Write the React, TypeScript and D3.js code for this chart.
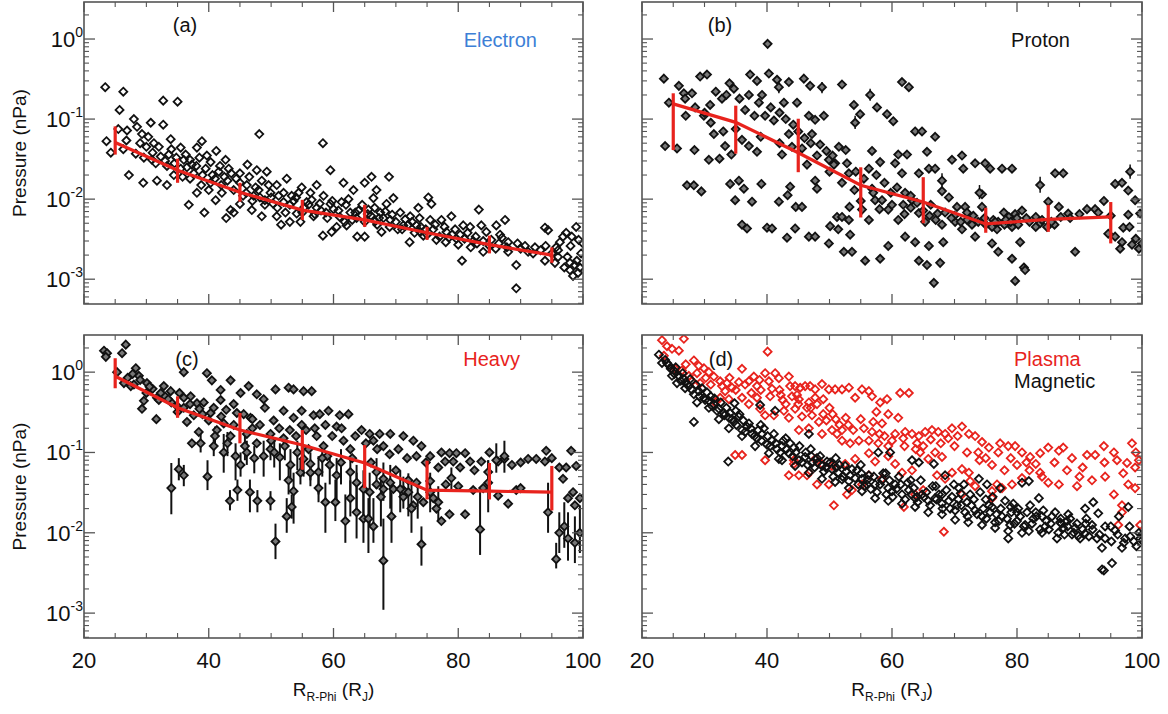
import React from "react";
import * as d3 from "d3";

// ---------- DATA ----------
const meanR = [25, 35, 45, 55, 65, 75, 85, 95];

const electronMean = [0.051, 0.023, 0.0122, 0.0073, 0.0055, 0.0038, 0.0027, 0.002];
const electronLo = [0.036, 0.016, 0.0093, 0.0055, 0.0045, 0.0031, 0.0021, 0.0016];
const electronHi = [0.081, 0.032, 0.016, 0.0098, 0.0085, 0.0045, 0.0035, 0.0025];

const protonMean = [0.155, 0.091, 0.038, 0.0149, 0.0092, 0.0049, 0.0056, 0.006];
const protonLo = [0.041, 0.037, 0.0217, 0.0059, 0.005, 0.0038, 0.0039, 0.0028];
const protonHi = [0.21, 0.147, 0.101, 0.025, 0.0188, 0.0078, 0.0085, 0.0092];

const heavyMean = [0.89, 0.36, 0.19, 0.124, 0.074, 0.034, 0.033, 0.032];
const heavyLo = [0.63, 0.27, 0.13, 0.061, 0.036, 0.026, 0.026, 0.019];
const heavyHi = [1.49, 0.5, 0.31, 0.19, 0.124, 0.079, 0.074, 0.068];

const electronPts: [number, number][] = [
  [23.4, 0.25], [26.3, 0.22], [25.7, 0.13], [23.6, 0.053], [24.3, 0.038], [25.5, 0.075], [26.9, 0.072],
  [26.8, 0.054], [26.3, 0.042], [27.2, 0.02], [28, 0.1], [28.5, 0.08], [29.3, 0.065], [30.7, 0.09],
  [32.7, 0.17], [35, 0.165], [32.7, 0.085], [31.2, 0.05], [28.3, 0.037], [29.6, 0.033], [30.9, 0.031],
  [32.3, 0.034], [29.5, 0.016], [31.7, 0.017], [33.9, 0.056], [34, 0.042], [33.3, 0.026], [33.3, 0.015],
  [35.5, 0.044], [36, 0.031], [34.4, 0.02], [38.9, 0.053], [38.1, 0.044], [41.2, 0.04], [39.7, 0.035],
  [42.7, 0.031], [37, 0.031], [36.5, 0.025], [37.6, 0.021], [36.8, 0.0085], [39.3, 0.0068], [38.8, 0.015],
  [40.3, 0.016], [41.6, 0.022], [41.1, 0.0097], [42.1, 0.012], [43.5, 0.0073], [42.8, 0.0058], [40.3, 0.029],
  [43.6, 0.021], [38.1, 0.012], [46.2, 0.027], [48.1, 0.065], [47.7, 0.023], [49.3, 0.022], [45, 0.021],
  [46.1, 0.015], [47.2, 0.011], [48.5, 0.017], [49.9, 0.012], [50.9, 0.015], [46.9, 0.0073], [48.5, 0.0061],
  [50.9, 0.0061], [51.6, 0.0048], [45, 0.0087], [49, 0.0097], [52, 0.0092], [44, 0.0068], [52.5, 0.018],
  [54.9, 0.014], [57.3, 0.015], [58.3, 0.05], [59.5, 0.023], [53.3, 0.011], [56.3, 0.012], [58.4, 0.011],
  [54.1, 0.0066], [56.8, 0.0061], [53, 0.0052], [58.3, 0.0035], [59.7, 0.0039], [60.5, 0.0045], [57.3, 0.0078],
  [55.7, 0.0092], [59.5, 0.0087], [54.7, 0.0052], [61.6, 0.016], [63.2, 0.013], [65, 0.016], [66.1, 0.019],
  [66.9, 0.013], [61.3, 0.0092], [62.7, 0.0068], [63.7, 0.0058], [63.8, 0.0034], [65, 0.0034], [65.6, 0.0074],
  [67.5, 0.0068], [66.7, 0.0053], [67.7, 0.0039], [62.1, 0.0047], [66.4, 0.0103], [68.9, 0.019], [69.6, 0.0103],
  [68.5, 0.0087], [70.7, 0.0068], [72.3, 0.0061], [73.6, 0.0078], [75.2, 0.0105], [75.7, 0.0087], [72.2, 0.0029],
  [73.9, 0.0039], [71.2, 0.0047], [75.5, 0.0055], [69.1, 0.0055], [73.3, 0.0047], [74.4, 0.0035], [77.3, 0.0055],
  [78.9, 0.0061], [80.8, 0.0047], [81.9, 0.0045], [80.6, 0.0017], [83.3, 0.0074], [78.1, 0.0039], [79.7, 0.0032],
  [82.4, 0.003], [76.5, 0.0031], [83.7, 0.0047], [87.5, 0.0055], [86.1, 0.0047], [84.5, 0.0039], [88, 0.0029],
  [89.3, 0.0015], [89.3, 0.00077], [91.2, 0.0022], [86.7, 0.0036], [93.9, 0.0044], [94.4, 0.0041], [93.9, 0.0017],
  [95.5, 0.0016], [96.8, 0.0034], [97.3, 0.0038], [98.9, 0.0045], [99.7, 0.0021], [97, 0.0014], [97.9, 0.0016],
  [98.4, 0.0011], [99.2, 0.0012], [97.9, 0.0013], [96.3, 0.0029], [95.7, 0.0025],
  [30, 0.045], [31, 0.038], [33, 0.03], [34.5, 0.028], [35.5, 0.024], [37, 0.018], [38, 0.026], [39, 0.02],
  [40, 0.013], [41, 0.018], [42, 0.015], [43, 0.017], [44, 0.013], [45, 0.016], [46, 0.012], [47, 0.0095],
  [48, 0.013], [49, 0.0085], [50, 0.0105], [51, 0.0078], [52, 0.012], [53, 0.0085], [54, 0.0105], [55, 0.0068],
  [56, 0.0085], [57, 0.0065], [58, 0.0072], [59, 0.0058], [60, 0.0075], [61, 0.006], [62, 0.0085], [63, 0.0055],
  [64, 0.0072], [65, 0.0052], [66, 0.0062], [67, 0.0048], [68, 0.0058], [69, 0.0045], [70, 0.0052], [71, 0.0042],
  [72, 0.0048], [73, 0.0038], [74, 0.0045], [75, 0.0036], [76, 0.0042], [77, 0.0034], [78, 0.0029], [79, 0.0036],
  [80, 0.0027], [81, 0.0032], [82, 0.0025], [83, 0.0028], [84, 0.0022], [85, 0.0026], [86, 0.0024], [87, 0.0033],
  [88, 0.0022], [90, 0.0024], [92, 0.0021], [94, 0.0026], [96, 0.0019], [98, 0.0026], [99, 0.0017], [100, 0.0028],
  [29, 0.05], [30.3, 0.06], [31.5, 0.028], [32, 0.045], [33.6, 0.036], [34.8, 0.033], [35.8, 0.019], [36.3, 0.036],
  [37.3, 0.027], [38.5, 0.033], [39.5, 0.024], [40.6, 0.02], [41.8, 0.026], [42.5, 0.019], [43.2, 0.024],
  [44.4, 0.018], [45.5, 0.011], [46.5, 0.019], [47.5, 0.014], [48.2, 0.0105], [49.6, 0.015], [50.3, 0.0088],
  [51.2, 0.011], [52.3, 0.0068], [53.6, 0.0095], [54.4, 0.012], [55.3, 0.0079], [56.5, 0.0098], [57.8, 0.0088],
  [58.8, 0.0068], [59.8, 0.0095], [60.8, 0.0072], [61.8, 0.0052], [62.4, 0.01], [63.5, 0.0068], [64.6, 0.0085],
  [65.5, 0.0065], [66.6, 0.0078], [67.3, 0.0058], [68.3, 0.007], [69.4, 0.0064], [70.3, 0.0042], [71.5, 0.0056],
  [72.6, 0.0052], [73.8, 0.0058], [74.8, 0.0042], [76.3, 0.0048], [77.8, 0.0045], [78.5, 0.0033], [79.5, 0.0042],
  [80.3, 0.0036], [81.5, 0.0038], [82.8, 0.0034], [84, 0.003], [85.3, 0.0031], [86.5, 0.0028], [87.8, 0.0025],
  [89.5, 0.0028], [90.7, 0.0026], [92.3, 0.0025], [93.2, 0.0023], [95, 0.0021], [96, 0.0023], [97.5, 0.0019],
  [98.7, 0.0015], [99.5, 0.0014], [99.3, 0.0031], [98.2, 0.0034],
];

const protonPts: [number, number][] = [
  [23.5, 0.32], [24.3, 0.16], [23.7, 0.046], [25.6, 0.043], [25.9, 0.26], [26.7, 0.21], [28, 0.21], [26.9, 0.18],
  [28.5, 0.14], [29.9, 0.11], [27.2, 0.0149], [28.3, 0.0149], [29.5, 0.0125], [28.4, 0.041], [30.7, 0.031],
  [32.4, 0.032], [29.3, 0.34], [30.4, 0.36], [30.9, 0.15], [31.5, 0.065], [32.8, 0.18], [34, 0.28], [34.7, 0.24],
  [33.3, 0.046], [34.3, 0.036], [34.1, 0.0155], [34.9, 0.0097], [36, 0.0048], [36.8, 0.0043], [35.5, 0.017],
  [36.3, 0.0135], [37.1, 0.2], [37.3, 0.36], [38.4, 0.3], [40.1, 0.87], [40.3, 0.37], [41.6, 0.31], [38.7, 0.16],
  [39.7, 0.11], [41.1, 0.096], [37.1, 0.046], [38.4, 0.039], [39.1, 0.0155], [37.6, 0.0093], [40, 0.0044],
  [40.8, 0.0043], [41.9, 0.0093], [43.5, 0.29], [42.7, 0.16], [44.8, 0.16], [43.5, 0.065], [42.4, 0.036],
  [43.7, 0.0143], [43.3, 0.0112], [44.6, 0.008], [44.5, 0.0043], [43.2, 0.0033], [45.9, 0.32], [46.9, 0.26],
  [46.7, 0.11], [47.7, 0.098], [49.1, 0.11], [45.6, 0.043], [46.4, 0.027], [47.7, 0.017], [48, 0.0135],
  [45.6, 0.008], [46.7, 0.0034], [47.7, 0.0034], [49.9, 0.0028], [49.9, 0.031], [50.9, 0.028], [52, 0.27],
  [50.7, 0.027], [50.1, 0.0046], [51.2, 0.006], [52, 0.006], [51.4, 0.0042], [53.1, 0.0055], [53.9, 0.15],
  [54.9, 0.115], [52.6, 0.041], [53.1, 0.021], [53.2, 0.008], [53.3, 0.0036], [52.3, 0.0022], [53.6, 0.0022],
  [55.7, 0.0017], [57.6, 0.14], [59.2, 0.115], [60.2, 0.094], [56.8, 0.04], [58.1, 0.029], [56.3, 0.024],
  [56.8, 0.0135], [57.3, 0.0097], [58.4, 0.0097], [59.4, 0.0074], [55.2, 0.0074], [56.3, 0.0055], [58.1, 0.0018],
  [59.4, 0.0026], [61.6, 0.29], [62.7, 0.25], [63.7, 0.07], [64.8, 0.07], [66.9, 0.06], [61, 0.036], [62.4, 0.036],
  [60.5, 0.028], [61.6, 0.021], [64.3, 0.021], [65.6, 0.039], [65.9, 0.024], [66.9, 0.024], [62.1, 0.012],
  [63.2, 0.0097], [61, 0.0055], [64.3, 0.0067], [65.3, 0.0052], [62.1, 0.0034], [63.7, 0.0029], [64.3, 0.0017],
  [65.6, 0.0015], [65.9, 0.0026], [66.7, 0.0009], [67.7, 0.0016], [68.2, 0.0029], [69.6, 0.031], [71.2, 0.035],
  [71.4, 0.024], [68, 0.0126], [69.1, 0.0105], [70.4, 0.008], [71.7, 0.008], [70.1, 0.0052], [71.2, 0.0042],
  [72.8, 0.0048], [73.3, 0.028], [74.9, 0.028], [75.7, 0.024], [74.4, 0.0115], [74.4, 0.008], [76.2, 0.0055],
  [73.3, 0.0034], [76, 0.0028], [77, 0.0022], [76.8, 0.0042], [77.6, 0.024], [79.2, 0.024], [77.9, 0.0068],
  [78.7, 0.006], [79.7, 0.0065], [80.8, 0.0072], [79.2, 0.0045], [80.5, 0.0029], [79.2, 0.0018], [81.1, 0.0014],
  [81.3, 0.0013], [79.7, 0.00095], [85, 0.0093], [86.1, 0.021], [87.4, 0.021], [86.7, 0.008], [88.2, 0.0066],
  [83.7, 0.005], [84.8, 0.0045], [89.3, 0.0022], [91.2, 0.0075], [92.5, 0.0075], [93.9, 0.0095], [94.6, 0.0037],
  [95.7, 0.0155], [96.8, 0.016], [97.8, 0.0128], [98.9, 0.0097], [97.8, 0.0064], [97, 0.0044], [95.7, 0.0034],
  [96.8, 0.0029], [98.4, 0.0027], [99.5, 0.0024], [96.5, 0.0024], [99.7, 0.0066],
  [27, 0.11], [30, 0.12], [31, 0.09], [33, 0.07], [35, 0.075], [36, 0.055], [39, 0.06], [42, 0.05], [44, 0.045],
  [47, 0.05], [48, 0.035], [50, 0.022], [52, 0.016], [54, 0.013], [55, 0.0095], [57, 0.012], [58, 0.0075],
  [60, 0.0085], [62, 0.0065], [63, 0.0078], [66, 0.0062], [67, 0.0055], [68, 0.0048], [70, 0.0062], [72, 0.0055],
  [73, 0.0062], [75, 0.0048], [76, 0.0045], [77, 0.0052], [78, 0.0048], [80, 0.0058], [82, 0.0052], [83, 0.006],
  [84, 0.0055], [86, 0.0048],
  [31.8, 0.22], [33.5, 0.2], [35.6, 0.18], [36.5, 0.13], [38, 0.11], [39.2, 0.2], [40.6, 0.14], [42, 0.12],
  [43, 0.1], [44.2, 0.085], [45, 0.07], [46, 0.058], [47.2, 0.065], [48.5, 0.048], [49.5, 0.04], [50.5, 0.035],
  [51.5, 0.045], [52.8, 0.028], [54.2, 0.022], [55.5, 0.018], [57.5, 0.02], [58.8, 0.016], [59.8, 0.012],
  [60.8, 0.014], [61.8, 0.0085], [63, 0.011], [64, 0.009], [65, 0.0072], [66.2, 0.0085], [67.3, 0.0066],
  [68.5, 0.0068], [69.5, 0.0058], [71, 0.0052], [72, 0.0068], [73.8, 0.0052], [74.8, 0.0058], [76.5, 0.0052],
  [78.2, 0.0055], [79, 0.0052], [80.2, 0.0048], [81.5, 0.0058], [83, 0.0045], [85.5, 0.0052], [87, 0.006],
  [88.5, 0.0058], [90, 0.0065], [93, 0.0068], [95, 0.0062], [98, 0.0045], [99, 0.0032], [100, 0.0028],
];

const protonErrPts: [number, number, number, number][] = [
  [54.1, 0.09, 0.075, 0.11], [56.5, 0.2, 0.17, 0.24], [41.9, 0.25, 0.21, 0.3], [48.8, 0.25, 0.21, 0.29],
  [83.7, 0.015, 0.012, 0.019], [98.1, 0.022, 0.018, 0.027], [68, 0.017, 0.014, 0.021], [74, 0.012, 0.01, 0.015],
];

const heavyPts: [number, number][] = [
  [23.2, 1.85], [23.7, 1.72], [23.5, 1.55], [26.7, 2.2], [26.1, 1.72], [25.3, 1.0], [28.3, 1.12], [28.8, 0.9],
  [26.4, 0.73], [27.5, 0.67], [30.1, 0.73], [30.7, 0.6], [31.7, 0.48], [29.6, 0.44], [29.3, 0.35], [31.6, 0.26],
  [32.8, 0.67], [33.9, 0.58], [36, 1.0], [34.9, 0.38], [36, 0.48], [37.1, 0.5], [38.1, 0.41], [37.6, 0.29],
  [38.4, 0.18], [37.3, 0.13], [36.5, 0.24], [39.7, 0.97], [40.5, 0.79], [41.9, 0.6], [43.5, 0.79], [41.9, 0.45],
  [40.3, 0.31], [41.3, 0.19], [42.4, 0.23], [43.5, 0.16], [44.5, 0.31], [45.1, 0.55], [46.4, 0.67], [47.7, 0.53],
  [48.8, 0.46], [49, 0.36], [46.7, 0.27], [46.1, 0.17], [47.7, 0.13], [49.9, 0.17], [50.7, 0.61], [52.8, 0.64],
  [53.6, 0.61], [52, 0.33], [54.9, 0.33], [55.2, 0.58], [56.5, 0.58], [53.6, 0.27], [54.9, 0.22], [56.8, 0.29],
  [57.8, 0.3], [59.2, 0.33], [61, 0.29], [62.4, 0.3], [58.7, 0.22], [60.5, 0.21], [57.3, 0.16], [58.4, 0.12],
  [61.6, 0.14], [62.7, 0.11], [65.8, 0.17], [67.4, 0.17], [69.1, 0.17], [71.2, 0.16], [72.8, 0.14], [74.1, 0.12],
  [75.5, 0.09], [73.3, 0.09], [70.4, 0.11], [66.4, 0.14], [68, 0.12], [77.3, 0.1], [78.6, 0.098], [79.7, 0.098],
  [81.1, 0.098], [77.9, 0.077], [79.2, 0.077], [81.9, 0.077], [83.7, 0.077], [85, 0.1], [86.4, 0.077],
  [87.4, 0.083], [91.2, 0.083], [92.5, 0.083], [94.1, 0.105], [93.9, 0.077], [98.1, 0.105], [96.2, 0.065],
  [97.3, 0.065], [98.9, 0.068], [96.8, 0.047], [98.4, 0.032], [99.5, 0.027], [97.6, 0.027], [98.7, 0.022],
  [89.3, 0.034], [88, 0.023], [86.4, 0.029], [82.4, 0.034], [81.1, 0.017], [77.3, 0.014], [78.6, 0.017],
  [76, 0.027], [76.5, 0.02], [74.4, 0.024], [72.8, 0.022], [71.2, 0.028], [69.6, 0.035], [68, 0.035],
  [66.9, 0.04], [73.3, 0.042], [75.5, 0.044],
  [27, 0.85], [28, 0.7], [30, 0.55], [31, 0.62], [32, 0.45], [33, 0.5], [34, 0.42], [35, 0.32], [36, 0.36],
  [39, 0.3], [40, 0.25], [42, 0.28], [44, 0.22], [47, 0.2], [50, 0.14], [52, 0.15], [56, 0.11], [59, 0.09],
  [63, 0.085], [66, 0.075], [70, 0.06], [72, 0.045], [78, 0.04], [80, 0.038], [84, 0.036], [90, 0.036],
  [27.8, 0.95], [29, 0.8], [30.5, 0.66], [32.3, 0.55], [33.5, 0.46], [35.3, 0.55], [37, 0.4], [38.5, 0.35],
  [39.2, 0.42], [40.8, 0.36], [42.8, 0.34], [44, 0.4], [45.6, 0.3], [47, 0.26], [48.2, 0.22], [50.4, 0.25],
  [51.3, 0.2], [53, 0.19], [54, 0.16], [55.6, 0.19], [57, 0.2], [59.8, 0.16], [61.3, 0.2], [63.5, 0.16],
  [64.5, 0.19], [65.2, 0.13], [67, 0.11], [69, 0.095], [71.8, 0.085], [74.8, 0.075], [76.8, 0.065],
  [80.3, 0.065], [82.6, 0.06], [88.6, 0.07], [90, 0.075], [95, 0.085],
];

const heavyErrPts: [number, number, number, number][] = [
  [34, 0.036, 0.017, 0.074], [35.2, 0.062, 0.045, 0.085], [36, 0.052, 0.038, 0.07], [39.8, 0.05, 0.034, 0.08],
  [43.4, 0.025, 0.019, 0.034], [44.6, 0.034, 0.025, 0.046], [46.6, 0.032, 0.018, 0.046], [47.8, 0.025, 0.018, 0.034],
  [49.9, 0.025, 0.019, 0.033], [50.7, 0.0078, 0.0047, 0.013], [52.5, 0.016, 0.01, 0.027], [53.3, 0.021, 0.015, 0.03],
  [53.6, 0.033, 0.013, 0.056], [52.8, 0.045, 0.03, 0.07], [54.7, 0.056, 0.04, 0.08], [56.3, 0.056, 0.038, 0.08],
  [57.6, 0.036, 0.024, 0.056], [58.7, 0.024, 0.01, 0.042], [60.3, 0.024, 0.014, 0.046], [61.9, 0.014, 0.0075, 0.03],
  [62.7, 0.027, 0.016, 0.045], [63.7, 0.018, 0.0085, 0.056], [64.8, 0.015, 0.0075, 0.04], [65.6, 0.015, 0.0056, 0.027],
  [66.4, 0.012, 0.0075, 0.027], [68, 0.0045, 0.0011, 0.015], [69.3, 0.016, 0.0075, 0.032], [71.2, 0.034, 0.02, 0.05],
  [72.5, 0.02, 0.01, 0.042], [74.1, 0.0072, 0.0039, 0.012], [75.5, 0.032, 0.018, 0.056], [78.9, 0.048, 0.034, 0.065],
  [83.5, 0.011, 0.0053, 0.033], [84.8, 0.042, 0.018, 0.08], [86.1, 0.08, 0.056, 0.13], [87.4, 0.09, 0.056, 0.14],
  [94.4, 0.018, 0.01, 0.042], [95.7, 0.0047, 0.0036, 0.0075], [96.2, 0.01, 0.0056, 0.018], [97, 0.012, 0.0065, 0.024],
  [97.6, 0.0085, 0.0045, 0.018], [98.7, 0.0075, 0.0042, 0.016], [99.5, 0.01, 0.0056, 0.022], [84.8, 0.057, 0.04, 0.08],
  [38.7, 0.13, 0.1, 0.17], [40.8, 0.12, 0.09, 0.16], [42.4, 0.1, 0.056, 0.17], [44.3, 0.09, 0.045, 0.13],
  [45.1, 0.07, 0.05, 0.1], [46.1, 0.1, 0.07, 0.14], [48.8, 0.09, 0.05, 0.14], [49.9, 0.11, 0.08, 0.15],
  [51.4, 0.087, 0.045, 0.13], [53.1, 0.07, 0.045, 0.11], [55.2, 0.083, 0.05, 0.12], [56.3, 0.072, 0.045, 0.1],
  [57.6, 0.057, 0.03, 0.09], [59.4, 0.07, 0.04, 0.1], [60.5, 0.052, 0.025, 0.085], [62.7, 0.057, 0.03, 0.09],
  [63.7, 0.042, 0.02, 0.07], [64.8, 0.035, 0.015, 0.06], [65.8, 0.032, 0.012, 0.056], [66.9, 0.057, 0.035, 0.085],
  [68, 0.047, 0.025, 0.075], [69.1, 0.042, 0.02, 0.07], [70.7, 0.035, 0.018, 0.06], [72, 0.032, 0.016, 0.055],
  [41, 0.16, 0.12, 0.21], [43, 0.13, 0.09, 0.18], [45.8, 0.12, 0.08, 0.17], [47.3, 0.085, 0.055, 0.12],
  [50.5, 0.1, 0.065, 0.14], [52.2, 0.12, 0.08, 0.16], [54.2, 0.1, 0.06, 0.14], [58.2, 0.085, 0.05, 0.12],
  [61.2, 0.075, 0.04, 0.11], [67.6, 0.028, 0.012, 0.05], [73.5, 0.028, 0.015, 0.045], [76.8, 0.024, 0.014, 0.038],
];

const magneticPts: [number, number][] = [
  [22.7, 1.65], [23.7, 1.42], [24.3, 1.22], [25.1, 1.05], [25.9, 0.9], [26.7, 0.82], [25.6, 0.73], [27.5, 0.67],
  [28.3, 0.53], [29.1, 0.58], [29.9, 0.48], [30.7, 0.44], [31.5, 0.4], [32.3, 0.35], [33.1, 0.31], [30.7, 0.36],
  [33.9, 0.27], [34.7, 0.24], [35.5, 0.28], [36, 0.19], [36.8, 0.21], [37.6, 0.17], [38.4, 0.15], [39.2, 0.17],
  [40, 0.125], [40.8, 0.14], [41.6, 0.11], [42.4, 0.12], [43.5, 0.098], [44.3, 0.115], [45.1, 0.08],
  [46.1, 0.088], [46.7, 0.17], [47.2, 0.074], [48, 0.085], [48.8, 0.068], [49.6, 0.077], [50.4, 0.062],
  [51.4, 0.056], [52.5, 0.068], [53.3, 0.052], [54.4, 0.06], [55.2, 0.047], [56.3, 0.052], [57.3, 0.04],
  [57.8, 0.1], [58.4, 0.045], [59.7, 0.1], [59.4, 0.036], [60.5, 0.04], [61.6, 0.03], [62.7, 0.034], [63.2, 0.08],
  [64.3, 0.075], [63.7, 0.027], [64.8, 0.03], [65.8, 0.025], [66.9, 0.027], [66.7, 0.072], [68, 0.023],
  [68.5, 0.052], [69.9, 0.04], [69.3, 0.02], [70.7, 0.036], [70.4, 0.022], [71.7, 0.018], [72.5, 0.03],
  [73.3, 0.019], [73.9, 0.047], [74.4, 0.016], [75.2, 0.04], [75.7, 0.018], [76.5, 0.0135], [77.3, 0.036],
  [77.6, 0.016], [78.6, 0.0105], [79.4, 0.023], [80, 0.014], [80.8, 0.042], [81.9, 0.044], [81.3, 0.0125],
  [82.6, 0.015], [83.5, 0.027], [84, 0.01], [84.5, 0.012], [85.6, 0.016], [86.4, 0.0085], [87.4, 0.0115],
  [88.2, 0.017], [88.8, 0.0095], [89.8, 0.0092], [90.9, 0.02], [92, 0.0125], [92.2, 0.024], [92.8, 0.0085],
  [93, 0.0175], [93.6, 0.0035], [93.9, 0.0034], [94.1, 0.0085], [95.2, 0.0042], [95.7, 0.0107], [96.3, 0.016],
  [97.3, 0.0085], [97.8, 0.021], [98.7, 0.0078], [99.5, 0.01], [99.7, 0.0085], [93.6, 0.0065], [96.8, 0.0065],
  [90.9, 0.0098], [89.3, 0.0115], [86.9, 0.0135], [81.9, 0.0105], [78.9, 0.0125],
  [28.3, 0.24], [33.8, 0.077], [34.8, 0.41], [38.9, 0.39], [41.3, 0.33], [41.9, 0.083],
  [23.2, 1.3], [24.8, 0.9], [26.9, 0.63], [28.8, 0.42], [32.3, 0.26], [33.9, 0.2], [36, 0.16], [38.1, 0.12],
  [40.3, 0.098], [42.4, 0.08], [44.5, 0.068], [46.7, 0.056], [48.8, 0.047], [50.9, 0.043], [53.1, 0.036],
  [55.2, 0.033], [57.3, 0.027], [59.4, 0.025], [61.6, 0.023], [63.7, 0.021], [65.8, 0.018], [68, 0.017],
  [70.1, 0.0145], [72.2, 0.0135], [74.4, 0.0125], [76.5, 0.0115], [78.6, 0.0085], [80.8, 0.01],
  [27, 0.75], [31, 0.5], [35, 0.33], [39, 0.22], [43, 0.15], [47, 0.11], [51, 0.085], [55, 0.07], [59, 0.055],
  [63, 0.045], [67, 0.038], [71, 0.031], [75, 0.026], [79, 0.021], [83, 0.018], [87, 0.015], [91, 0.013],
  [95, 0.012], [52, 0.046], [56, 0.04], [60, 0.033], [64, 0.028], [68, 0.03], [72, 0.024], [76, 0.021],
  [80, 0.018], [84, 0.016], [88, 0.014], [98, 0.012], [100, 0.0095],
  [24, 1.3], [24.6, 1.1], [25.2, 0.95], [25.4, 1.15], [26.2, 0.78], [26.5, 0.97], [27.2, 0.7], [27.7, 0.82],
  [28, 0.6], [28.6, 0.7], [29.2, 0.5], [29.6, 0.63], [30.1, 0.45], [30.4, 0.56], [31.2, 0.38], [31.6, 0.47],
  [32, 0.33], [32.6, 0.42], [33.2, 0.29], [33.5, 0.36], [34.1, 0.31], [34.4, 0.26], [35.1, 0.22], [35.6, 0.3],
  [36.2, 0.25], [36.5, 0.18], [37.1, 0.23], [37.4, 0.2], [38, 0.16], [38.6, 0.19], [39.1, 0.14], [39.5, 0.2],
  [40.1, 0.16], [40.5, 0.12], [41.1, 0.17], [41.4, 0.13], [42.1, 0.1], [42.6, 0.14], [43.1, 0.11], [43.7, 0.13],
  [44.1, 0.09], [44.6, 0.1], [45.2, 0.12], [45.6, 0.075], [46.2, 0.1], [46.5, 0.07], [47.1, 0.09], [47.6, 0.065],
  [48.1, 0.075], [48.5, 0.09], [49.1, 0.058], [49.4, 0.065], [50.1, 0.075], [50.6, 0.05], [51.1, 0.065],
  [51.6, 0.07], [52.1, 0.05], [52.7, 0.058], [53.1, 0.044], [53.6, 0.062], [54.1, 0.048], [54.6, 0.04],
  [55.1, 0.055], [55.6, 0.038], [56.1, 0.046], [56.6, 0.035], [57.1, 0.05], [57.6, 0.032], [58.1, 0.04],
  [58.6, 0.055], [59.1, 0.03], [59.6, 0.045], [60.1, 0.028], [60.7, 0.035], [61.1, 0.05], [61.4, 0.04],
  [62.1, 0.026], [62.5, 0.042], [63.1, 0.03], [63.5, 0.036], [64.1, 0.024], [64.6, 0.045], [65.1, 0.028],
  [65.5, 0.032], [66.1, 0.022], [66.5, 0.038], [67.1, 0.026], [67.5, 0.03], [68.1, 0.02], [68.7, 0.034],
  [69.1, 0.025], [69.6, 0.028], [70.1, 0.019], [70.6, 0.026], [71.1, 0.022], [71.5, 0.04], [72.1, 0.016],
  [72.7, 0.022], [73.1, 0.026], [73.6, 0.017], [74.1, 0.032], [74.6, 0.02], [75.1, 0.015], [75.5, 0.022],
  [76.1, 0.028], [76.7, 0.017], [77.1, 0.014], [77.4, 0.02], [78.1, 0.025], [78.4, 0.015], [79.1, 0.018],
  [79.6, 0.013], [80.2, 0.02], [80.5, 0.016], [81.1, 0.012], [81.6, 0.018], [82.1, 0.022], [82.4, 0.013],
  [83.1, 0.016], [83.7, 0.011], [84.2, 0.019], [84.7, 0.014], [85.1, 0.011], [85.4, 0.013], [86.1, 0.018],
  [86.6, 0.01], [87.1, 0.013], [87.6, 0.0095], [88.1, 0.012], [88.5, 0.015], [89.1, 0.01], [89.6, 0.013],
  [90.1, 0.0085], [90.5, 0.011], [91.1, 0.015], [91.5, 0.009], [92.1, 0.011], [93.2, 0.0095], [94.1, 0.012],
  [95.1, 0.0078], [96.1, 0.0095], [97.1, 0.0075], [98.1, 0.009], [99.1, 0.0068], [100, 0.008],
];

const plasmaPts: [number, number][] = [
  [23.2, 2.5], [24, 2.1], [24.8, 1.95], [25.9, 1.85], [26.7, 2.6], [23.5, 1.6], [25.3, 1.1], [26.4, 1.05],
  [28.3, 1.4], [29.1, 1.2], [29.9, 1.12], [30.7, 1.0], [28.8, 0.97], [28, 0.77], [29.3, 0.73], [31.5, 0.88],
  [32.5, 0.77], [32.8, 0.67], [33.6, 0.73], [34.4, 0.64], [33.3, 0.58], [32.5, 0.48], [31.7, 0.42], [33.9, 0.46],
  [36, 1.1], [37.1, 0.77], [37.9, 0.88], [38.4, 0.67], [40.1, 1.8], [39.7, 0.97], [40.3, 0.77], [41.3, 0.97],
  [41.9, 0.84], [43.5, 0.88], [43.7, 0.67], [36, 0.48], [37.1, 0.4], [38.4, 0.48], [38.9, 0.35], [39.7, 0.29],
  [41.1, 0.29], [42.7, 0.33], [43.5, 0.27], [44.5, 0.67], [45.3, 0.64], [46.1, 0.67], [46.9, 0.67], [47.7, 0.61],
  [48.8, 0.71], [49.9, 0.61], [50.9, 0.61], [52, 0.61], [53.1, 0.64], [45.1, 0.46], [46.7, 0.42], [47.7, 0.48],
  [49, 0.46], [44.5, 0.35], [45.6, 0.28], [47.2, 0.29], [48.3, 0.24], [45.1, 0.19], [46.7, 0.2], [48.8, 0.17],
  [50.4, 0.19], [51.2, 0.17], [52, 0.19], [54.1, 0.48], [55.2, 0.61], [56.3, 0.58], [56.8, 0.5], [58.1, 0.42],
  [59.2, 0.46], [61.3, 0.55], [62.7, 0.55], [59.4, 0.3], [61, 0.27], [58.4, 0.23], [56.8, 0.18], [54.7, 0.14],
  [53.3, 0.13], [52, 0.14], [56.3, 0.14], [57.8, 0.13], [59.4, 0.12], [60.5, 0.17], [62.1, 0.18], [63.2, 0.17],
  [64.3, 0.16], [65.3, 0.18], [66.4, 0.19], [67.4, 0.18], [68.5, 0.17], [69.6, 0.2], [71.2, 0.21], [72.3, 0.17],
  [73.3, 0.16], [74.4, 0.135], [75.5, 0.115], [77.3, 0.13], [78.6, 0.12], [79.7, 0.12], [80.8, 0.1], [82.1, 0.088],
  [83.7, 0.098], [85, 0.115], [86.7, 0.105], [87.4, 0.115], [91.2, 0.093], [92.5, 0.093], [93.9, 0.12], [96, 0.08],
  [98.4, 0.13], [97.6, 0.074], [98.9, 0.065], [99.5, 0.08], [97.8, 0.04], [98.9, 0.036], [97, 0.055], [94.1, 0.05],
  [95.5, 0.03], [96.8, 0.018], [96.2, 0.0125], [99.7, 0.0125], [96.8, 0.022], [89.6, 0.038], [86.7, 0.04],
  [85, 0.042], [83.7, 0.056], [80.8, 0.048], [79.2, 0.04], [77.6, 0.036], [76, 0.033], [73.3, 0.038],
  [72.3, 0.056], [71.2, 0.062], [69.6, 0.056], [68.5, 0.047], [67.2, 0.052], [65.8, 0.083], [66.9, 0.1], [68, 0.088],
  [64.5, 0.1], [63.2, 0.06], [61.6, 0.056], [60.5, 0.072], [59.4, 0.09], [57.3, 0.077], [56.3, 0.098], [54.1, 0.083],
  [52.5, 0.072], [50.4, 0.068], [48.8, 0.072], [47.7, 0.083], [46.7, 0.056], [45.1, 0.052], [43.5, 0.052],
  [44.3, 0.072], [46.4, 0.052], [48, 0.04], [49.9, 0.04], [52.8, 0.03], [53.6, 0.034], [50.7, 0.022], [55.2, 0.04],
  [56.3, 0.052], [58.4, 0.047], [61.9, 0.021], [63.7, 0.03], [65, 0.034], [68.3, 0.0103], [71.2, 0.03],
  [72.5, 0.044], [76, 0.027], [76.8, 0.04], [34.9, 0.093], [36, 0.093], [39.7, 0.08], [44.3, 0.08],
  [35, 0.6], [36.5, 0.7], [37.5, 0.55], [39, 0.6], [40.5, 0.5], [42, 0.6], [42.5, 0.45], [44, 0.5], [45, 0.4],
  [47, 0.36], [49, 0.3], [50, 0.36], [51, 0.26], [53, 0.22], [55, 0.26], [57, 0.24], [58, 0.17], [60, 0.14],
  [62, 0.12], [64, 0.13], [70, 0.12], [72, 0.1], [74, 0.08], [76, 0.07], [78, 0.06], [80, 0.07], [82, 0.06],
  [84, 0.05], [88, 0.06], [90, 0.05], [92, 0.045], [94, 0.075],
  [27, 1.25], [27.5, 0.9], [30.2, 0.85], [31, 0.7], [34, 0.85], [35.5, 0.75], [38.8, 0.8], [40.8, 0.62],
  [42.2, 0.52], [43, 0.4], [44.8, 0.52], [46.4, 0.36], [48, 0.4], [49.5, 0.25], [50.5, 0.3], [51.6, 0.22],
  [52.6, 0.27], [53.8, 0.19], [55.5, 0.2], [57.5, 0.32], [58.8, 0.16], [61.8, 0.15], [63.8, 0.11], [65, 0.12],
  [66.2, 0.145], [67.8, 0.13], [69, 0.15], [70.5, 0.16], [73.8, 0.1], [75, 0.085], [77, 0.1], [79, 0.085],
  [81.5, 0.075], [83, 0.072], [86, 0.075], [88.8, 0.085], [90.5, 0.065], [95.5, 0.1], [99, 0.1],
];

const xTickVals = [20, 40, 60, 80, 100];
const yTickExps = [-3, -2, -1, 0];

// ---------- LAYOUT ----------
const X_DOMAIN: [number, number] = [20, 100];
const Y_DOMAIN: [number, number] = [4.9e-4, 2.9];
const RED = "#e8231d";
const AXIS = "#555";
const FONT = "'Liberation Sans', Arial, Helvetica, sans-serif";

type PanelProps = {
  id: string;
  left: number;
  right: number;
  top: number;
  bottom: number;
  yLabels: boolean;
  xLabels: boolean;
  children: (x: d3.ScaleLinear<number, number>, y: d3.ScaleLogarithmic<number, number>) => React.ReactNode;
};

function Panel({ id, left, right, top, bottom, yLabels, xLabels, children }: PanelProps) {
  const x = d3.scaleLinear().domain(X_DOMAIN).range([left, right]);
  const y = d3.scaleLog().domain(Y_DOMAIN).range([bottom, top]);
  const yMinor: number[] = [];
  for (let e = -4; e <= 0; e++) {
    for (let m = 2; m <= 9; m++) {
      const v = m * Math.pow(10, e);
      if (v > Y_DOMAIN[0] && v < Y_DOMAIN[1]) yMinor.push(v);
    }
  }
  const xMinor = d3.range(25, 100, 5).filter((v) => v % 20 !== 0);
  const cx = (left + right) / 2;
  return (
    <g>
      <defs>
        <clipPath id={`clip-${id}`}>
          <rect x={left} y={top} width={right - left} height={bottom - top} />
        </clipPath>
      </defs>
      <g clipPath={`url(#clip-${id})`}>{children(x, y)}</g>
      <rect x={left} y={top} width={right - left} height={bottom - top} fill="none" stroke={AXIS} strokeWidth={1.6} />
      {yTickExps.map((e) => {
        const yy = y(Math.pow(10, e));
        return (
          <g key={`ym${e}`}>
            <line x1={left} x2={left + 11} y1={yy} y2={yy} stroke={AXIS} strokeWidth={1.3} />
            <line x1={right} x2={right - 11} y1={yy} y2={yy} stroke={AXIS} strokeWidth={1.3} />
          </g>
        );
      })}
      {yMinor.map((v, i) => {
        const yy = y(v);
        return (
          <g key={`yn${i}`}>
            <line x1={left} x2={left + 5} y1={yy} y2={yy} stroke={AXIS} strokeWidth={1.1} />
            <line x1={right} x2={right - 5} y1={yy} y2={yy} stroke={AXIS} strokeWidth={1.1} />
          </g>
        );
      })}
      {xTickVals.map((v) => (
        <g key={`xm${v}`}>
          <line x1={x(v)} x2={x(v)} y1={bottom} y2={bottom - 10} stroke={AXIS} strokeWidth={1.3} />
          <line x1={x(v)} x2={x(v)} y1={top} y2={top + 10} stroke={AXIS} strokeWidth={1.3} />
        </g>
      ))}
      {xMinor.map((v) => (
        <g key={`xn${v}`}>
          <line x1={x(v)} x2={x(v)} y1={bottom} y2={bottom - 5} stroke={AXIS} strokeWidth={1.1} />
          <line x1={x(v)} x2={x(v)} y1={top} y2={top + 5} stroke={AXIS} strokeWidth={1.1} />
        </g>
      ))}
      {yLabels &&
        yTickExps.map((e) => (
          <text key={`yl${e}`} x={left - 1} y={y(Math.pow(10, e)) + 8} textAnchor="end" fontSize={22} fontFamily={FONT} fill="#111">
            10
            <tspan dy={-10} fontSize={14}>{String(e)}</tspan>
          </text>
        ))}
      {yLabels && (
        <text
          transform={`translate(${left - 58},${(top + bottom) / 2}) rotate(-90)`}
          textAnchor="middle"
          fontSize={19}
          fontFamily={FONT}
          fill="#111"
        >
          Pressure (nPa)
        </text>
      )}
      {xLabels &&
        xTickVals.map((v) => (
          <text key={`xl${v}`} x={x(v)} y={bottom + 30} textAnchor="middle" fontSize={22} fontFamily={FONT} fill="#111">
            {v}
          </text>
        ))}
      {xLabels && (
        <text x={cx} y={bottom + 58} textAnchor="middle" fontSize={19} fontFamily={FONT} fill="#111">
          R<tspan dy={5} fontSize={12}>R-Phi</tspan>
          <tspan dy={-5}> (R</tspan>
          <tspan dy={5} fontSize={12}>J</tspan>
          <tspan dy={-5}>)</tspan>
        </text>
      )}
    </g>
  );
}

const diamond = (x: number, y: number, r = 4) => `M${x},${y - r}L${x + r},${y}L${x},${y + r}L${x - r},${y}Z`;

function Scatter({ pts, x, y, color = "#111", fill = "none" }: any) {
  return (
    <g>
      {pts.map((p: number[], i: number) => (
        <path key={i} d={diamond(x(p[0]), y(p[1]))} fill={fill} stroke={color} strokeWidth={1.8} />
      ))}
    </g>
  );
}

function ErrBars({ pts, x, y, width = 2 }: any) {
  return (
    <g>
      {pts.map((p: number[], i: number) => (
        <line key={i} x1={x(p[0])} x2={x(p[0])} y1={y(p[2])} y2={y(p[3])} stroke="#111" strokeWidth={width} />
      ))}
    </g>
  );
}

function MeanLine({ mean, lo, hi, x, y }: any) {
  const line = d3
    .line<number>()
    .x((_, i) => x(meanR[i]))
    .y((d) => y(d));
  return (
    <g>
      <path d={line(mean) || ""} fill="none" stroke={RED} strokeWidth={3.2} />
      {meanR.map((r, i) => (
        <line key={i} x1={x(r)} x2={x(r)} y1={y(lo[i])} y2={y(hi[i])} stroke={RED} strokeWidth={3.2} />
      ))}
    </g>
  );
}

export default function App() {
  const L1 = 84, R1 = 583, L2 = 642, R2 = 1142;
  const T1 = 2, B1 = 304, T2 = 335, B2 = 638;
  return (
    <div style={{ position: "absolute", left: 0, top: 0, background: "#fff" }}>
      <svg width={1168} height={714} style={{ display: "block" }}>
        <rect width={1168} height={714} fill="#fff" />
        <Panel id="a" left={L1} right={R1} top={T1} bottom={B1} yLabels={true} xLabels={false}>
          {(x, y) => (
            <>
              <Scatter pts={electronPts} x={x} y={y} />
              <MeanLine mean={electronMean} lo={electronLo} hi={electronHi} x={x} y={y} />
            </>
          )}
        </Panel>
        <Panel id="b" left={L2} right={R2} top={T1} bottom={B1} yLabels={false} xLabels={false}>
          {(x, y) => (
            <>
              <ErrBars pts={protonErrPts} x={x} y={y} width={1.5} />
              <Scatter pts={protonPts} x={x} y={y} fill="#777" />
              <Scatter pts={protonErrPts} x={x} y={y} fill="#777" />
              <MeanLine mean={protonMean} lo={protonLo} hi={protonHi} x={x} y={y} />
            </>
          )}
        </Panel>
        <Panel id="c" left={L1} right={R1} top={T2} bottom={B2} yLabels={true} xLabels={true}>
          {(x, y) => (
            <>
              <ErrBars pts={heavyErrPts} x={x} y={y} width={2} />
              <Scatter pts={heavyPts} x={x} y={y} fill="#777" />
              <Scatter pts={heavyErrPts} x={x} y={y} fill="#777" />
              <MeanLine mean={heavyMean} lo={heavyLo} hi={heavyHi} x={x} y={y} />
            </>
          )}
        </Panel>
        <Panel id="d" left={L2} right={R2} top={T2} bottom={B2} yLabels={false} xLabels={true}>
          {(x, y) => (
            <>
              <Scatter pts={plasmaPts} x={x} y={y} color={RED} />
              <Scatter pts={magneticPts} x={x} y={y} color="#111" />
            </>
          )}
        </Panel>
        <text x={185} y={32} textAnchor="middle" fontSize={20} fontFamily={FONT} fill="#111">(a)</text>
        <text x={537} y={47} textAnchor="end" fontSize={20} fontFamily={FONT} fill="#3d7fd6">Electron</text>
        <text x={720} y={32} textAnchor="middle" fontSize={20} fontFamily={FONT} fill="#111">(b)</text>
        <text x={1070} y={47} textAnchor="end" fontSize={20} fontFamily={FONT} fill="#111">Proton</text>
        <text x={187} y={366} textAnchor="middle" fontSize={20} fontFamily={FONT} fill="#111">(c)</text>
        <text x={520} y={366} textAnchor="end" fontSize={20} fontFamily={FONT} fill={RED}>Heavy</text>
        <text x={721} y={366} textAnchor="middle" fontSize={20} fontFamily={FONT} fill="#111">(d)</text>
        <text x={1014} y={366} textAnchor="start" fontSize={20} fontFamily={FONT} fill={RED}>Plasma</text>
        <text x={1014} y={388} textAnchor="start" fontSize={20} fontFamily={FONT} fill="#111">Magnetic</text>
      </svg>
    </div>
  );
}
